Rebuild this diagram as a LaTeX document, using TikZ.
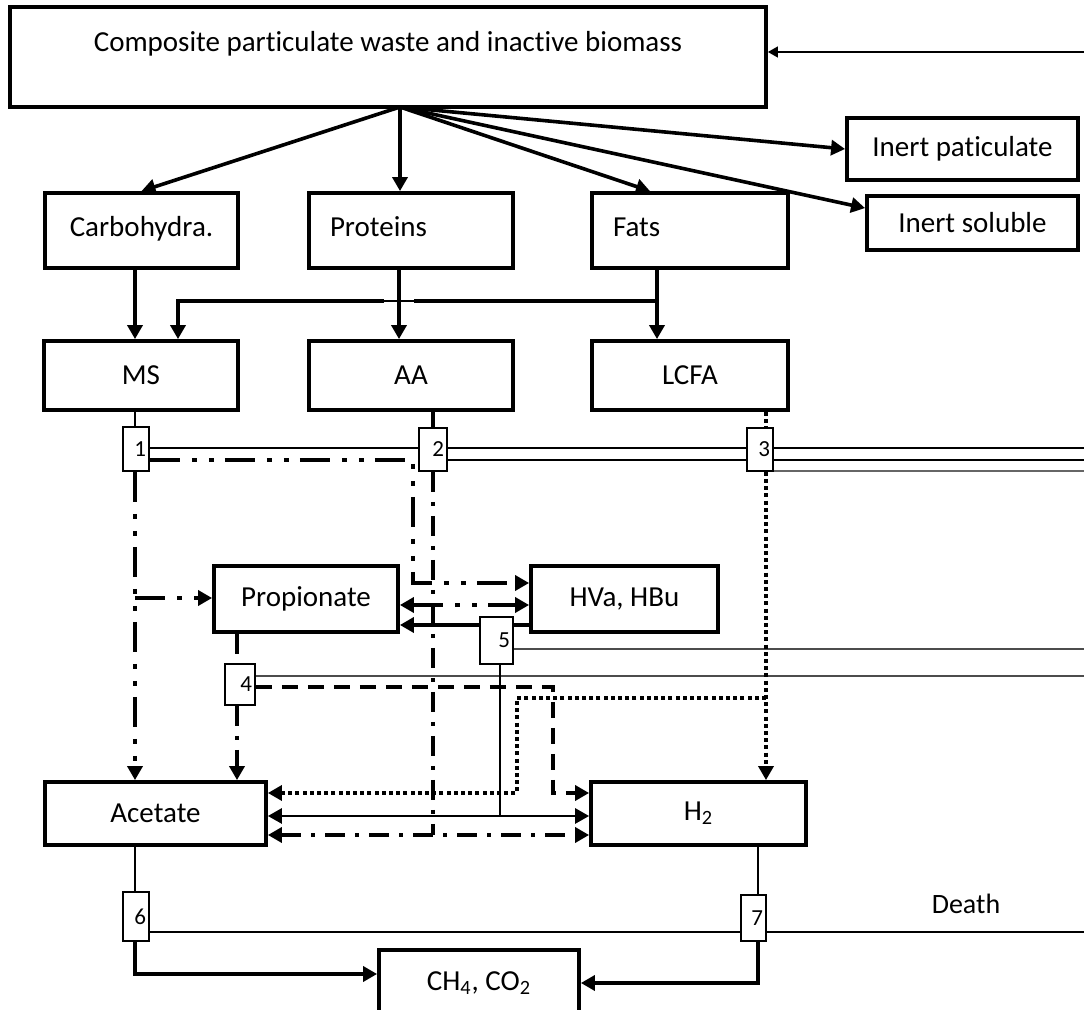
\documentclass[tikz,border=0pt]{standalone}
\usepackage{fontspec}
\setmainfont{Carlito}[Ligatures=NoCommon]
\usetikzlibrary{arrows.meta,calc,backgrounds}
\begin{document}
\begin{tikzpicture}[x=0.5pt,y=-0.5pt,
  bx/.style={draw,line width=1.9pt,fill=white,inner sep=0pt,font=\fontsize{14.5}{17}\selectfont},
  r2/.style={text height=22pt,text depth=15.5pt,inner ysep=0pt},
  nb/.style={draw,line width=0.8pt,fill=white,inner ysep=0pt,inner xsep=1.5pt,font=\fontsize{11.5}{13}\selectfont,align=right},
  ln/.style={line width=1.8pt},
  arr/.style={-{Triangle[length=7pt,width=7.5pt]}},
  darr/.style={{Triangle[length=7pt,width=7.5pt]}-{Triangle[length=7pt,width=7.5pt]}},
  ddd/.style={dash pattern=on 15pt off 6pt on 2.5pt off 6pt on 2.5pt off 5.5pt},
  dsd/.style={dash pattern=on 10pt off 5pt on 2pt off 5pt},
  dsh/.style={dash pattern=on 8pt off 5pt},
  dtt/.style={line width=1.7pt,dash pattern=on 2pt off 1.6pt},
  death/.style={line width=0.55pt},
]
\useasboundingbox (0,0) rectangle (1084,1010);

% ---------- nodes ----------
\node[bx, minimum width=378pt, text height=22.5pt, text depth=27.5pt] (top) at (388,57) {Composite particulate waste and inactive biomass};
\node[bx, minimum width=115.5pt, minimum height=31pt] (inp) at (962.5,149) {Inert paticulate};
\node[bx, minimum width=105.5pt, minimum height=27pt] (ins) at (972.5,223) {Inert soluble};

\node[bx, r2, minimum width=96.5pt] (carb) at (141.5,230.5) {Carbohydra.};
\node[bx, r2, inner xsep=10.5pt, text width=81pt, align=left] (prot) at (411,230.5) {Proteins};
\node[bx, r2, inner xsep=10.5pt, text width=77pt, align=left] (fats) at (690,230.5) {Fats};

\node[bx, minimum width=97pt, minimum height=34.5pt] (ms) at (141,375.5) {MS};
\node[bx, minimum width=102pt, minimum height=34.5pt] (aa) at (411,375.5) {AA};
\node[bx, minimum width=98pt, minimum height=34.5pt] (lcfa) at (690,375.5) {LCFA};

\node[nb, text width=10pt, minimum height=22pt] (b1) at (136,449) {1};
\node[nb, text width=11pt, minimum height=21.5pt] (b2) at (433,449.5) {2};
\node[nb, text width=10pt, minimum height=21.5pt] (b3) at (760,449.5) {3};

\node[bx, minimum width=92pt, minimum height=33pt] (prop) at (306,599) {Propionate};
\node[bx, minimum width=93.5pt, minimum height=33pt] (hva) at (624.5,599) {HVa, HBu};

\node[nb, text width=13.5pt, minimum height=23.5pt] (b5) at (496.5,640.5) {5};
\node[nb, text width=12pt, minimum height=20.5pt] (b4) at (240,684.5) {4};

\node[bx, minimum width=110.5pt, minimum height=31.5pt] (acet) at (155.5,813.5) {Acetate};
\node[bx, minimum width=107.5pt, minimum height=31.5pt] (h2) at (698.5,813.5) {H\textsubscript{2}};

\node[nb, text width=10pt, minimum height=24.5pt] (b6) at (136,916.5) {6};
\node[nb, text width=9.5pt, minimum height=23pt] (b7) at (753.5,918) {7};
\node[font=\fontsize{14}{17}\selectfont] (death) at (966,904) {Death};

\node[bx, minimum width=100pt, minimum height=33pt] (ch4) at (479,983) {CH\textsubscript{4}, CO\textsubscript{2}};

% ---------- helper coordinates ----------
\coordinate (apex) at (400,107);
\coordinate (rin) at (1084,52);
\coordinate (xR) at (1084,0);
\coordinate (xA) at (135,0);
\coordinate (xB) at (178,0);
\coordinate (xC) at (399,0);
\coordinate (xD) at (657,0);
\coordinate (xE) at (433,0);
\coordinate (xF) at (413,0);
\coordinate (xG) at (766,0);
\coordinate (xH) at (237,0);
\coordinate (xI) at (500,0);
\coordinate (xJ) at (517,0);
\coordinate (xK) at (553,0);
\coordinate (xL) at (758,0);
\coordinate (xF1) at (650,0);
\coordinate (hopL) at (384,301);
\coordinate (hopR) at (414,301);
\coordinate (yA) at (0,301);
\coordinate (yB) at (0,460);
\coordinate (yC) at (0,583);
\coordinate (yD) at (0,605);
\coordinate (yE) at (0,625);
\coordinate (yF) at (0,598);
\coordinate (yG) at (0,687);
\coordinate (yH) at (0,698);
\coordinate (yI) at (0,793);
\coordinate (yJ) at (0,816);
\coordinate (yK) at (0,835);
\coordinate (yL) at (0,974);
\coordinate (yM) at (0,983);
\coordinate (yd1) at (0,448);
\coordinate (yd2) at (0,460);
\coordinate (yd3) at (0,471);
\coordinate (yd5) at (0,649);
\coordinate (yd4) at (0,676);
\coordinate (yd6) at (0,932);
\coordinate (insT) at ($(ins.north west)+(0,14)$);

% ---------- connectors ----------
\begin{scope}[on background layer]
% input from the right
\draw[line width=0.6pt,-{Triangle[length=5pt,width=5.5pt]}] (rin) -- (top.east |- rin);
% disintegration fan
\draw[ln,arr] (apex) -- (carb.north);
\draw[ln,arr] (apex) -- (prot.north -| apex);
\draw[ln,arr] (apex) -- (fats.north -| xF1);
\draw[ln,arr] (apex) -- (inp.west);
\draw[ln,arr] (apex) -- (insT);
% hydrolysis
\draw[ln,arr] (carb.south -| xA) -- (ms.north -| xA);
\draw[ln,arr] (prot.south -| xC) -- (aa.north -| xC);
\draw[ln,arr] (fats.south -| xD) -- (lcfa.north -| xD);
\draw[ln] (xD |- yA) -- (hopR);
\draw[line width=0.6pt] (hopR) -- (hopL);
\draw[ln,arr] (hopL) -- (xB |- yA) -- (ms.north -| xB);
% death lines
\draw[death] (b1.east |- yd1) -- (xR |- yd1);
\draw[death] (b2.east |- yd2) -- (xR |- yd2);
\draw[death,black!60] (b3.east |- yd3) -- (xR |- yd3);
\draw[death,black!70] (b5.east |- yd5) -- (xR |- yd5);
\draw[death,black!70] (b4.east |- yd4) -- (xR |- yd4);
\draw[death] (b6.east |- yd6) -- (b7.west |- yd6);
\draw[line width=0.9pt] (b7.east |- yd6) -- (xR |- yd6);
% MS uptake (1)
\draw[line width=0.6pt] (ms.south -| xA) -- (b1.north -| xA);
\draw[ln,ddd,arr] (b1.south -| xA) -- (acet.north -| xA);
\draw[ln,ddd,arr] (xA |- yF) -- (prop.west |- yF);
\draw[ln,ddd,arr] (b1.east |- yB) -- (xF |- yB) -- (xF |- yC) -- (hva.west |- yC);
\draw[ln,ddd,darr] (prop.east |- yD) -- (hva.west |- yD);
% HVa, HBu uptake (5)
\draw[ln,arr] (hva.west |- yE) -- (prop.east |- yE);
\draw[line width=1.1pt] (b5.south -| xI) -- (xI |- yJ);
\draw[line width=1.4pt,darr] (acet.east |- yJ) -- (h2.west |- yJ);
% AA uptake (2)
\draw[ln] (aa.south -| xE) -- (b2.north -| xE);
\draw[ln,dsd] (b2.south -| xE) -- (xE |- yK);
\draw[ln,dsd,darr] (acet.east |- yK) -- (h2.west |- yK);
% LCFA uptake (3)
\draw[dtt] (lcfa.south -| xG) -- (b3.north -| xG);
\draw[dtt,arr] (b3.south -| xG) -- (h2.north -| xG);
\draw[dtt,arr] (xG |- yH) -- (xJ |- yH) -- (xJ |- yI) -- (acet.east |- yI);
% propionate uptake (4)
\draw[ln,dsd] (prop.south -| xH) -- (b4.north -| xH);
\draw[ln,dsd,arr] (b4.south -| xH) -- (acet.north -| xH);
\draw[ln,dsh,arr] (b4.east |- yG) -- (xK |- yG) -- (xK |- yI) -- (h2.west |- yI);
% methanogenesis (6, 7)
\draw[line width=1.1pt] (acet.south -| xA) -- (b6.north -| xA);
\draw[ln,arr] (b6.south -| xA) -- (xA |- yL) -- (ch4.west |- yL);
\draw[line width=1.1pt] (h2.south -| xL) -- (b7.north -| xL);
\draw[ln,arr] (b7.south -| xL) -- (xL |- yM) -- (ch4.east |- yM);
\end{scope}
\end{tikzpicture}
\end{document}
